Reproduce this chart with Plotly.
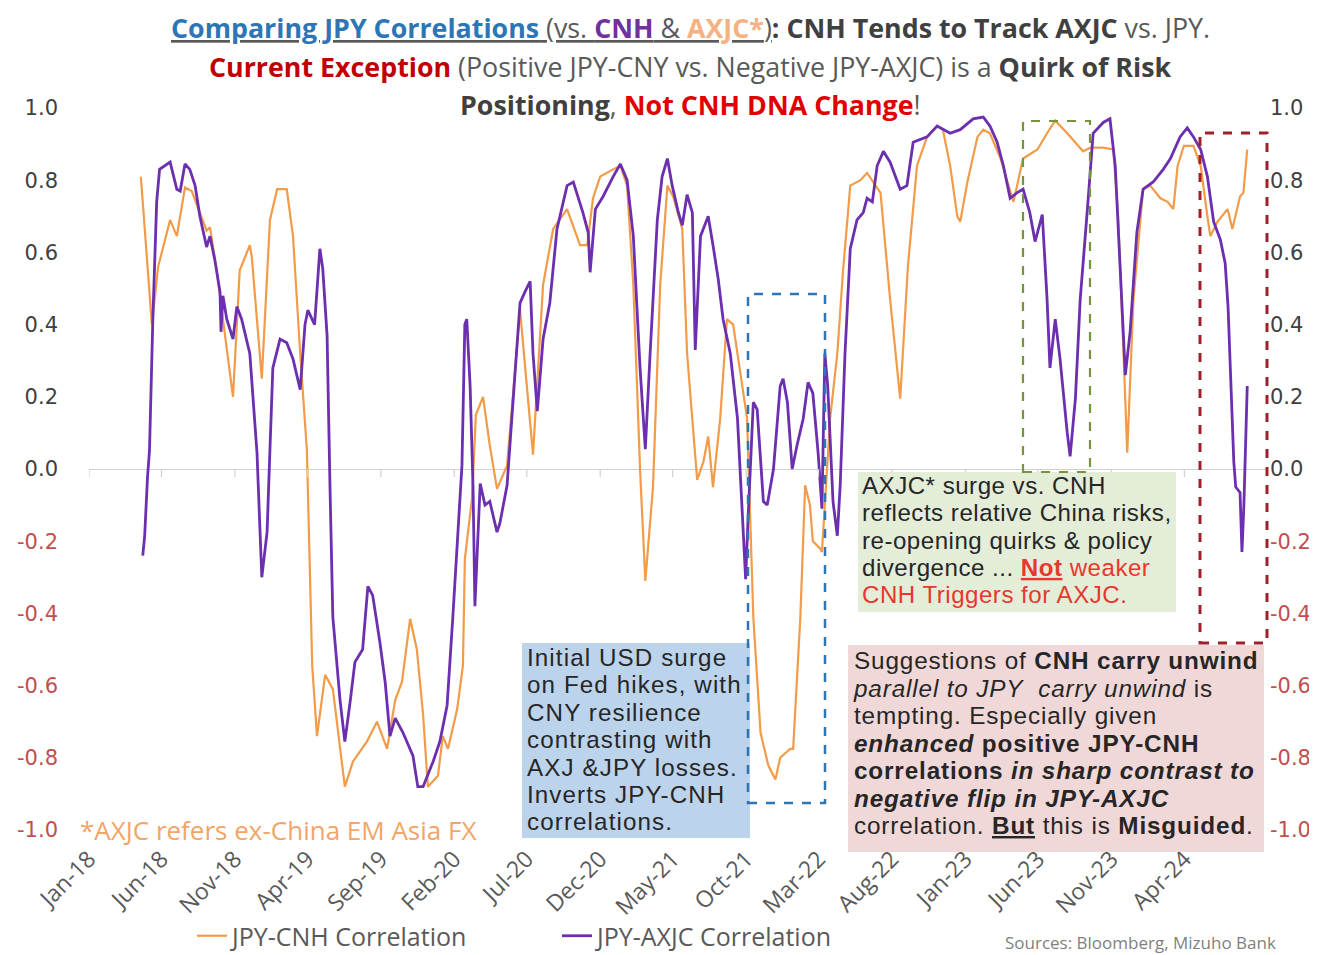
import plotly.graph_objects as go

# ---------------- data ----------------
cnh_dates = [
    "2018-04-19", "2018-05-12", "2018-05-25", "2018-06-19", "2018-07-03", "2018-07-20",
    "2018-08-03", "2018-08-14", "2018-09-03", "2018-09-10", "2018-09-24", "2018-10-07",
    "2018-10-28", "2018-11-11", "2018-12-02", "2018-12-06", "2018-12-27", "2019-01-13",
    "2019-01-28", "2019-02-17", "2019-03-02", "2019-03-17", "2019-03-31", "2019-04-11",
    "2019-04-21", "2019-05-08", "2019-05-24", "2019-06-18", "2019-07-05", "2019-08-03",
    "2019-08-24", "2019-09-14", "2019-10-01", "2019-10-15", "2019-11-01", "2019-11-15",
    "2019-11-28", "2019-12-08", "2019-12-29", "2020-01-08", "2020-01-19", "2020-02-07",
    "2020-02-19", "2020-02-23", "2020-03-09", "2020-03-17", "2020-04-01", "2020-04-15",
    "2020-04-30", "2020-05-21", "2020-06-17", "2020-07-14", "2020-08-04", "2020-08-25",
    "2020-09-23", "2020-10-20", "2020-11-04", "2020-11-16", "2020-12-01", "2020-12-28",
    "2021-01-12", "2021-01-26", "2021-02-08", "2021-02-22", "2021-03-05", "2021-03-21",
    "2021-04-05", "2021-04-20", "2021-05-02", "2021-05-21", "2021-05-31", "2021-06-21",
    "2021-07-04", "2021-07-14", "2021-07-24", "2021-08-08", "2021-08-22", "2021-09-04",
    "2021-09-18", "2021-10-03", "2021-10-16", "2021-10-31", "2021-11-16", "2021-12-01",
    "2021-12-11", "2022-01-01", "2022-01-07", "2022-01-22", "2022-02-01", "2022-02-11",
    "2022-02-17", "2022-03-04", "2022-03-08", "2022-03-25", "2022-04-09", "2022-04-21",
    "2022-05-06", "2022-05-27", "2022-06-10", "2022-07-08", "2022-07-28", "2022-08-18",
    "2022-09-03", "2022-09-22", "2022-10-13", "2022-11-03", "2022-11-15", "2022-11-30",
    "2022-12-15", "2022-12-21", "2023-01-05", "2023-01-26", "2023-02-07", "2023-02-21",
    "2023-03-15", "2023-03-29", "2023-04-11", "2023-05-01", "2023-05-31", "2023-06-20",
    "2023-07-07", "2023-08-01", "2023-09-03", "2023-09-18", "2023-10-15", "2023-11-05",
    "2023-11-15", "2023-11-26", "2023-12-04", "2023-12-17", "2024-01-06", "2024-01-21",
    "2024-02-11", "2024-02-26", "2024-03-09", "2024-03-18", "2024-03-31", "2024-04-20",
    "2024-05-05", "2024-05-19", "2024-05-25", "2024-06-09", "2024-06-30", "2024-07-10",
    "2024-07-26", "2024-08-02", "2024-08-10",
]
cnh_vals = [
    0.81, 0.40, 0.56, 0.69, 0.645, 0.78,
    0.77, 0.73, 0.66, 0.67, 0.55, 0.415,
    0.20, 0.55, 0.62, 0.59, 0.25, 0.69,
    0.775, 0.775, 0.645, 0.32, 0.05, -0.545,
    -0.74, -0.57, -0.61, -0.88, -0.81, -0.755,
    -0.70, -0.775, -0.64, -0.59, -0.415, -0.50,
    -0.68, -0.88, -0.85, -0.74, -0.775, -0.665,
    -0.545, -0.25, -0.08, 0.15, 0.20, 0.065,
    -0.055, 0.01, 0.44, 0.04, 0.51, 0.665,
    0.72, 0.62, 0.62, 0.75, 0.81, 0.83,
    0.84, 0.785, 0.51, 0.0, -0.31, -0.05,
    0.51, 0.785, 0.755, 0.665, 0.32, -0.03,
    0.02, 0.09, -0.05, 0.14, 0.415, 0.40,
    0.28, 0.14, -0.41, -0.73, -0.82, -0.86,
    -0.80, -0.775, -0.775, -0.41, -0.045, -0.10,
    -0.20, -0.22, -0.23, 0.14, 0.32, 0.55,
    0.785, 0.80, 0.82, 0.765, 0.47, 0.195,
    0.56, 0.84, 0.92, 0.95, 0.94, 0.84,
    0.70, 0.685, 0.795, 0.92, 0.94, 0.93,
    0.86, 0.795, 0.74, 0.86, 0.885, 0.93,
    0.965, 0.93, 0.88, 0.89, 0.89, 0.885,
    0.70, 0.33, 0.045, 0.47, 0.775, 0.785,
    0.75, 0.74, 0.72, 0.84, 0.895, 0.895,
    0.84, 0.70, 0.645, 0.685, 0.72, 0.665,
    0.755, 0.765, 0.885,
]

axjc_dates = [
    "2018-04-23", "2018-04-27", "2018-05-03", "2018-05-07", "2018-05-14", "2018-05-22",
    "2018-05-28", "2018-06-12", "2018-06-19", "2018-07-03", "2018-07-10", "2018-07-20",
    "2018-07-30", "2018-08-10", "2018-08-20", "2018-09-03", "2018-09-10", "2018-09-20",
    "2018-10-01", "2018-10-03", "2018-10-07", "2018-10-15", "2018-10-28", "2018-11-05",
    "2018-11-15", "2018-12-02", "2018-12-17", "2018-12-27", "2019-01-07", "2019-01-13",
    "2019-01-19", "2019-02-03", "2019-02-17", "2019-03-02", "2019-03-17", "2019-03-27",
    "2019-04-02", "2019-04-16", "2019-04-27", "2019-05-03", "2019-05-12", "2019-05-18",
    "2019-05-24", "2019-06-08", "2019-06-18", "2019-06-29", "2019-07-09", "2019-07-25",
    "2019-08-05", "2019-08-15", "2019-08-30", "2019-09-10", "2019-09-20", "2019-10-01",
    "2019-10-17", "2019-11-07", "2019-11-17", "2019-11-28", "2019-12-19", "2020-01-02",
    "2020-01-17", "2020-01-29", "2020-02-09", "2020-02-17", "2020-02-23", "2020-02-27",
    "2020-03-05", "2020-03-11", "2020-03-15", "2020-03-26", "2020-04-05", "2020-04-15",
    "2020-04-30", "2020-05-06", "2020-05-21", "2020-06-02", "2020-06-17", "2020-06-27",
    "2020-07-08", "2020-07-14", "2020-07-23", "2020-08-04", "2020-08-18", "2020-09-02",
    "2020-09-23", "2020-10-06", "2020-10-26", "2020-11-06", "2020-11-10", "2020-11-21",
    "2020-12-07", "2020-12-28", "2021-01-12", "2021-01-26", "2021-02-08", "2021-02-22",
    "2021-03-05", "2021-03-15", "2021-03-30", "2021-04-09", "2021-04-20", "2021-04-30",
    "2021-05-13", "2021-05-21", "2021-05-31", "2021-06-11", "2021-06-17", "2021-06-28",
    "2021-07-14", "2021-07-24", "2021-08-04", "2021-08-14", "2021-08-29", "2021-09-13",
    "2021-09-23", "2021-09-30", "2021-10-05", "2021-10-16", "2021-10-24", "2021-11-06",
    "2021-11-14", "2021-11-27", "2021-12-11", "2021-12-17", "2021-12-26", "2022-01-05",
    "2022-01-15", "2022-01-28", "2022-02-07", "2022-02-17", "2022-02-28", "2022-03-08",
    "2022-03-14", "2022-03-20", "2022-03-31", "2022-04-09", "2022-04-15", "2022-04-25",
    "2022-05-06", "2022-05-20", "2022-06-02", "2022-06-10", "2022-06-21", "2022-07-01",
    "2022-07-14", "2022-07-28", "2022-08-18", "2022-09-01", "2022-09-14", "2022-10-13",
    "2022-11-03", "2022-11-30", "2022-12-21", "2023-01-17", "2023-02-07", "2023-02-21",
    "2023-03-08", "2023-03-21", "2023-04-04", "2023-04-18", "2023-05-01", "2023-05-15",
    "2023-05-26", "2023-06-10", "2023-06-20", "2023-06-26", "2023-07-07", "2023-07-17",
    "2023-08-01", "2023-08-07", "2023-08-18", "2023-08-28", "2023-09-12", "2023-09-24",
    "2023-10-15", "2023-10-29", "2023-11-09", "2023-11-19", "2023-11-30", "2023-12-10",
    "2023-12-24", "2024-01-06", "2024-01-27", "2024-02-17", "2024-03-03", "2024-03-23",
    "2024-04-07", "2024-04-20", "2024-05-05", "2024-05-19", "2024-06-01", "2024-06-15",
    "2024-06-25", "2024-07-01", "2024-07-07", "2024-07-13", "2024-07-17", "2024-07-26",
    "2024-07-30", "2024-08-03", "2024-08-10",
]
axjc_vals = [
    -0.24, -0.185, -0.02, 0.05, 0.415, 0.74,
    0.83, 0.845, 0.85, 0.775, 0.77, 0.845,
    0.83, 0.785, 0.70, 0.615, 0.645, 0.58,
    0.49, 0.38, 0.48, 0.415, 0.36, 0.45,
    0.415, 0.32, 0.045, -0.30, -0.175, 0.055,
    0.28, 0.36, 0.35, 0.305, 0.22, 0.40,
    0.44, 0.40, 0.61, 0.555, 0.37, -0.045,
    -0.41, -0.64, -0.755, -0.645, -0.535, -0.50,
    -0.325, -0.35, -0.48, -0.59, -0.74, -0.69,
    -0.73, -0.795, -0.88, -0.88, -0.81, -0.755,
    -0.655, -0.41, -0.175, 0.01, 0.40, 0.415,
    0.23, -0.045, -0.38, -0.04, -0.10, -0.09,
    -0.175, -0.15, -0.045, 0.185, 0.46, 0.49,
    0.52, 0.32, 0.16, 0.36, 0.46, 0.665,
    0.785, 0.795, 0.71, 0.655, 0.545, 0.72,
    0.755, 0.81, 0.845, 0.80, 0.645, 0.28,
    0.055, 0.32, 0.69, 0.81, 0.86, 0.785,
    0.71, 0.675, 0.76, 0.71, 0.33, 0.645,
    0.70, 0.62, 0.525, 0.415, 0.32, 0.14,
    -0.14, -0.305, -0.14, 0.185, 0.165, -0.09,
    -0.10, 0.0, 0.23, 0.25, 0.185, 0.0,
    0.065, 0.14, 0.24, 0.21, 0.045, -0.11,
    0.32, 0.23, -0.09, -0.185, -0.045, 0.32,
    0.61, 0.69, 0.71, 0.75, 0.74, 0.84,
    0.88, 0.85, 0.775, 0.785, 0.905, 0.92,
    0.95, 0.93, 0.94, 0.97, 0.975, 0.95,
    0.905, 0.84, 0.75, 0.765, 0.775, 0.71,
    0.63, 0.705, 0.47, 0.28, 0.415, 0.305,
    0.10, 0.035, 0.195, 0.47, 0.72, 0.93,
    0.96, 0.97, 0.84, 0.56, 0.26, 0.38,
    0.655, 0.775, 0.795, 0.83, 0.86, 0.92,
    0.945, 0.92, 0.885, 0.81, 0.685, 0.635,
    0.57, 0.45, 0.25, 0.02, -0.05, -0.065,
    -0.23, -0.10, 0.23,
]

tick_dates = [
    "2018-01-01", "2018-06-01", "2018-11-01", "2019-04-01", "2019-09-01", "2020-02-01",
    "2020-07-01", "2020-12-01", "2021-05-01", "2021-10-01", "2022-03-01", "2022-08-01",
    "2023-01-01", "2023-06-01", "2023-11-01", "2024-04-01",
]
tick_labels = [
    "Jan-18", "Jun-18", "Nov-18", "Apr-19", "Sep-19", "Feb-20", "Jul-20", "Dec-20",
    "May-21", "Oct-21", "Mar-22", "Aug-22", "Jan-23", "Jun-23", "Nov-23", "Apr-24",
]
y_ticks = [-1.0, -0.8, -0.6, -0.4, -0.2, 0.0, 0.2, 0.4, 0.6, 0.8, 1.0]

# ---------------- layout helpers (page pixel coordinates) ----------------
PAGE_W, PAGE_H = 1317, 955
OFF = 8                      # default <body> margin of the written page
L, R, T, B = 89, 1265, 108, 830   # plot area on the page


def fx(p):
    return (p - L) / (R - L)


def fy(p):
    return (B - p) / (B - T)


ORANGE = "#F29B48"
PURPLE = "#6C2FAF"
NEG = "#C0504D"
POS = "#404040"
FONT = "Open Sans"
BOXFONT = "Liberation Sans"


def tick_text(v):
    s = f"{v:.1f}"
    if v < 0:
        return f'<span style="color:{NEG}">{s}</span>'
    return s


y_text = [tick_text(v) for v in y_ticks]

fig = go.Figure()
fig.add_trace(go.Scatter(x=cnh_dates, y=cnh_vals, mode="lines", name="JPY-CNH Correlation",
                         line=dict(color=ORANGE, width=2.2)))
fig.add_trace(go.Scatter(x=axjc_dates, y=axjc_vals, mode="lines", name="JPY-AXJC Correlation",
                         line=dict(color=PURPLE, width=2.8), yaxis="y2"))

shapes = []
# small tick marks hanging from the zero line
for d in tick_dates:
    shapes.append(dict(type="line", xref="x", yref="y", ysizemode="pixel", yanchor=0,
                       x0=d, x1=d, y0=0, y1=-8, line=dict(color="#D0D0D0", width=1.2)))


def rect(x0, y0, x1, y1, fill=None, line=None):
    d = dict(type="rect", xref="paper", yref="paper", x0=fx(x0), x1=fx(x1), y0=fy(y1), y1=fy(y0),
             layer="above")
    d["fillcolor"] = fill if fill else "rgba(0,0,0,0)"
    d["line"] = line if line else dict(width=0)
    return d


# text box backgrounds
shapes.append(rect(522, 643, 750, 838, fill="#BCD3EC"))
shapes.append(rect(858, 472, 1176, 612, fill="#E3EDD8"))
shapes.append(rect(848, 645, 1264, 852, fill="#F0D8D8"))
# dashed highlight boxes
shapes.append(rect(748, 294, 825, 803, line=dict(color="#2E75B6", width=2.5, dash="dash")))
shapes.append(rect(1023, 121, 1090, 472, line=dict(color="#77933C", width=2.2, dash="dash")))
shapes.append(rect(1200, 133, 1267, 643, line=dict(color="#A0202A", width=3, dash="dash")))

TXT = "#262626"
RED = "#E8382E"
annotations = []


def ann(text, x, y, size, color=TXT, xanchor="left", align="left", family=FONT):
    annotations.append(dict(text=text, xref="paper", yref="paper", x=fx(x), y=fy(y),
                            xanchor=xanchor, yanchor="middle", align=align, showarrow=False,
                            font=dict(family=family, size=size, color=color)))


def block(lines, x, y_center, glyph, step, spacing):
    # line pitch follows the base size (step / 1.3); glyph size and tracking are set per line,
    # reproducing the tight line spacing of the original text boxes
    text = "<br>".join(
        f"<span style='font-size:{glyph}px;letter-spacing:{spacing}px'>{s}</span>" for s in lines)
    ann(text, x, y_center, step / 1.3, family=BOXFONT)


# title (three centred lines)
title1 = ("<u><span style='color:#2E75B6'><b>Comparing JPY Correlations</b></span> "
          "(vs. <span style='color:#7030A0'><b>CNH</b></span> &amp; "
          "<span style='color:#F4B183'><b>AXJC*</b></span>)</u>"
          "<b><span style='color:#404040'>: CNH Tends to Track AXJC</span></b> vs. JPY.")
title2 = ("<b><span style='color:#C00000'>Current Exception</span></b> "
          "(Positive JPY-CNY vs. Negative JPY-AXJC) is a "
          "<b><span style='color:#404040'>Quirk of Risk</span></b>")
title3 = ("<b><span style='color:#404040'>Positioning</span></b>, "
          "<b><span style='color:#E00000'>Not CNH DNA Change</span></b>!")
ann(title1, 690, 27, 26.8, color="#595959", xanchor="center", align="center")
ann(title2, 690, 67, 26.8, color="#595959", xanchor="center", align="center")
ann(title3, 690, 104, 26.8, color="#595959", xanchor="center", align="center")

blue_lines = ["Initial USD surge", "on Fed hikes, with", "CNY resilience", "contrasting with",
              "AXJ &amp;JPY losses.", "Inverts JPY-CNH", "correlations."]
block(blue_lines, 524.5, 739, 24.2, 27.4, 1.1)

green_lines = ["AXJC* surge vs. CNH", "reflects relative China risks,",
               "re-opening quirks &amp; policy",
               f"divergence ... <span style='color:{RED}'><b><u>Not</u></b> weaker</span>",
               f"<span style='color:{RED}'>CNH Triggers for AXJC.</span>"]
block(green_lines, 859.5, 539.5, 24.1, 27.3, 0.5)

pink_lines = ["Suggestions of <b>CNH carry unwind</b>",
              "<i>parallel to JPY  carry unwind</i> is",
              "tempting. Especially given",
              "<b><i>enhanced</i> positive JPY-CNH</b>",
              "<b>correlations <i>in sharp contrast to</i></b>",
              "<b><i>negative flip in JPY-AXJC</i></b>",
              "correlation. <b><u>But</u></b> this is <b>Misguided</b>."]
block(pink_lines, 850.5, 742.5, 24.3, 27.5, 0.85)

ann("*AXJC refers ex-China EM Asia FX", 78, 830, 26, color="#F1A567")
ann("Sources: Bloomberg, Mizuho Bank", 1003, 942, 17, color="#7F7F7F")

fig.update_layout(
    width=PAGE_W - OFF, height=PAGE_H - OFF,
    margin=dict(l=L - OFF, r=PAGE_W - R, t=T - OFF, b=PAGE_H - B, autoexpand=False),
    paper_bgcolor="white", plot_bgcolor="white",
    showlegend=True,
    legend=dict(orientation="h", x=fx(192), y=fy(936), xanchor="left", yanchor="middle",
                font=dict(family=FONT, size=25, color="#595959"),
                entrywidth=320, entrywidthmode="pixels", bgcolor="rgba(0,0,0,0)"),
    xaxis=dict(type="date", range=["2018-01-01", "2024-09-16"], tickvals=tick_dates,
               ticktext=tick_labels, tickangle=-45, showgrid=False, zeroline=False,
               showline=False, ticks="", ticklabelstandoff=10,
               tickfont=dict(family=FONT, size=23, color="#595959")),
    yaxis=dict(range=[-1, 1], tickvals=y_ticks, ticktext=y_text, showgrid=False,
               zeroline=True, zerolinecolor="#D0D0D0", zerolinewidth=1.2, showline=False,
               ticks="", ticklabelstandoff=30,
               tickfont=dict(family="DejaVu Sans", size=21, color=POS)),
    yaxis2=dict(range=[-1, 1], overlaying="y", side="right", tickvals=y_ticks, ticktext=y_text,
                showgrid=False, zeroline=False, showline=False, ticks="", ticklabelstandoff=4,
                tickfont=dict(family="DejaVu Sans", size=21, color=POS)),
    shapes=shapes,
    annotations=annotations,
)

fig.write_html("out.html")
